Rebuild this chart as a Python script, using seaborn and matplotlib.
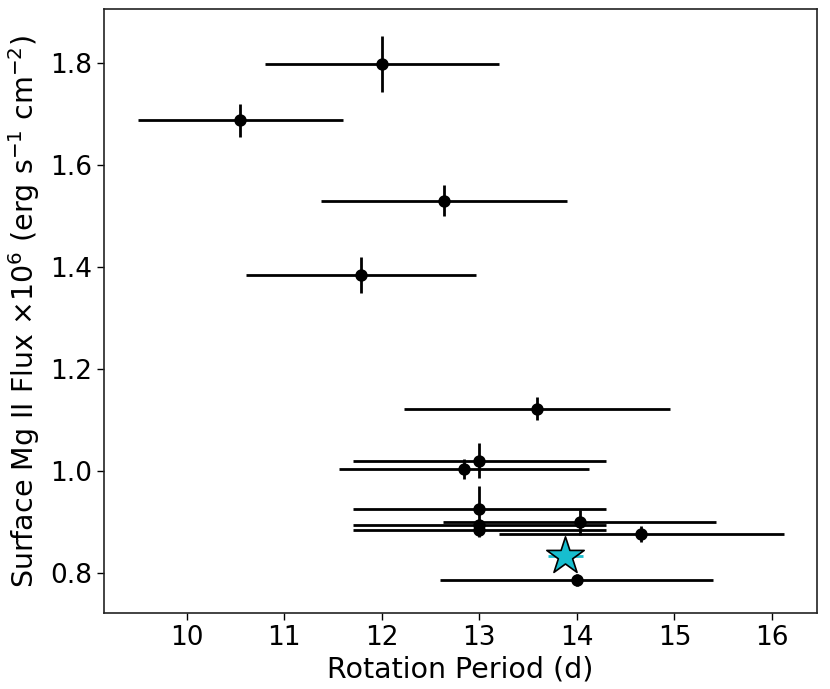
import numpy as np
import pandas as pd
import matplotlib
matplotlib.use("Agg")
import matplotlib.pyplot as plt
import seaborn as sns

# Data
period = [12.00, 10.55, 12.64, 11.79, 13.59, 13.00, 12.84, 13.00, 14.03, 13.00, 13.00, 14.66, 14.00]
period_err = [1.20, 1.05, 1.26, 1.18, 1.36, 1.30, 1.28, 1.30, 1.40, 1.30, 1.30, 1.46, 1.40]
flux = [1.798, 1.688, 1.531, 1.385, 1.123, 1.021, 1.005, 0.926, 0.900, 0.895, 0.884, 0.877, 0.787]
flux_err = [0.055, 0.032, 0.031, 0.035, 0.022, 0.034, 0.020, 0.045, 0.025, 0.012, 0.012, 0.016, 0.012]

star_period = [13.88]
star_period_err = [0.18]
star_flux = [0.833]
star_flux_err = [0.0]

sns.set_theme(style="ticks")
plt.rcParams['font.family'] = ['DejaVu Sans']
plt.rcParams['text.color'] = 'black'
plt.rcParams['axes.labelcolor'] = 'black'
plt.rcParams['xtick.color'] = 'black'
plt.rcParams['ytick.color'] = 'black'

fig = plt.figure(figsize=(8.3, 6.89), dpi=100)
ax = fig.add_axes([0.1253, 0.1099, 0.984 - 0.1253, 0.9865 - 0.1099])

df = pd.DataFrame({"period": period, "flux": flux})
ax.errorbar(period, flux, xerr=period_err, yerr=flux_err, fmt='none',
            ecolor='black', elinewidth=2, capsize=0, zorder=2)
sns.scatterplot(data=df, x="period", y="flux", ax=ax, color='black',
                s=80, edgecolor='black', linewidth=0, zorder=3)

ax.errorbar(star_period, star_flux, xerr=star_period_err, yerr=star_flux_err,
            fmt='none', ecolor='#17becf', elinewidth=2, capsize=0, zorder=4)
sdf = pd.DataFrame({"period": star_period, "flux": star_flux})
sns.scatterplot(data=sdf, x="period", y="flux", ax=ax, marker='*', s=800,
                color='#17becf', edgecolor='black', linewidth=1.2, zorder=5)

ax.set_xlim(9.153, 16.458)
ax.set_ylim(0.7216, 1.906)
ax.set_xticks([10, 11, 12, 13, 14, 15, 16])
ax.set_yticks([0.8, 1.0, 1.2, 1.4, 1.6, 1.8])
ax.set_yticklabels(['0.8', '1.0', '1.2', '1.4', '1.6', '1.8'])

ax.set_xlabel("Rotation Period (d)", fontsize=20.5, color='black', labelpad=3)
ax.set_ylabel(r"Surface Mg II Flux $\times 10^{6}$ (erg s$^{-1}$ cm$^{-2}$)", fontsize=20.5,
              color='black', labelpad=6)
ax.tick_params(axis='both', labelsize=19, direction='out', length=5, width=1, colors='black')
for sp in ax.spines.values():
    sp.set_color('#222222')
    sp.set_linewidth(1.2)

fig.savefig("out.png", dpi=100)
